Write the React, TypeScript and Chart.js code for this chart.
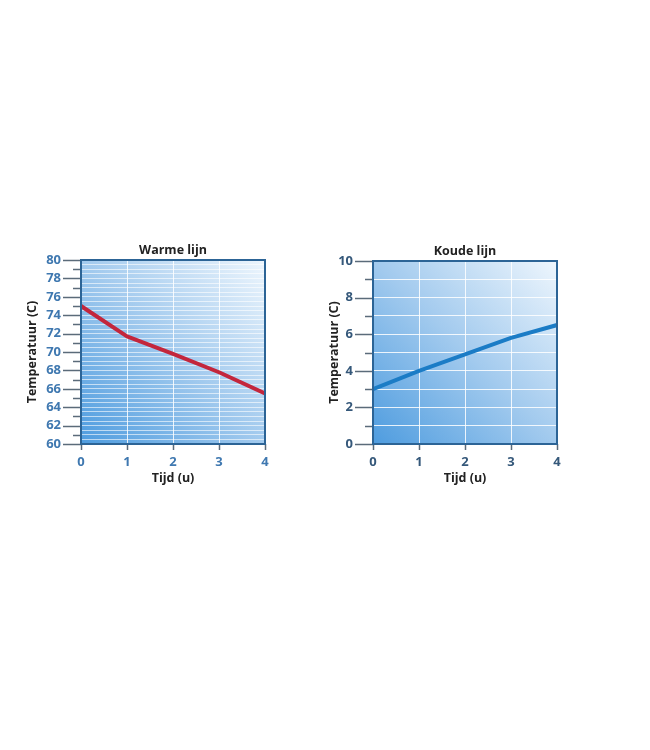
import React, { useEffect, useRef } from "react";
import { Chart, registerables } from "chart.js";

Chart.register(...registerables);

const hours = [0, 1, 2, 3, 4];
const warmTemps = [75, 71.7, 69.8, 67.8, 65.5];
const coldTemps = [3.0, 4.0, 4.9, 5.8, 6.5];
const warmTitle = "Warme lijn";
const coldTitle = "Koude lijn";
const xTitle = "Tijd (u)";
const yTitle = "Temperatuur (C)";

const FONT = "'Open Sans', 'Noto Sans', sans-serif";

const decorPlugin = {
  id: "decor",
  beforeDraw(chart: any) {
    const { ctx, chartArea: a } = chart;
    const g = ctx.createLinearGradient(a.left, a.bottom, a.right, a.top);
    g.addColorStop(0, "#4e9cdf");
    g.addColorStop(0.5, "#a2caee");
    g.addColorStop(1, "#eef6fd");
    ctx.save();
    ctx.fillStyle = g;
    ctx.fillRect(a.left, a.top, a.right - a.left, a.bottom - a.top);
    ctx.restore();
  },
  afterDraw(chart: any) {
    const { ctx, chartArea: a } = chart;
    const ys = chart.scales.y;
    const xs = chart.scales.x;
    ctx.save();
    ctx.strokeStyle = "#5b6b7a";
    ctx.lineWidth = 1.5;
    ys.ticks.forEach((t: any) => {
      const v = t.value;
      let len = 0;
      if (Math.abs(v % 2) < 1e-6) len = 18;
      else if (Math.abs(v % 1) < 1e-6) len = 8;
      if (!len) return;
      const y = Math.round(ys.getPixelForValue(v)) + 0.5;
      ctx.beginPath();
      ctx.moveTo(a.left - len, y);
      ctx.lineTo(a.left, y);
      ctx.stroke();
    });
    xs.ticks.forEach((t: any) => {
      const x = Math.round(xs.getPixelForValue(t.value)) + 0.5;
      ctx.beginPath();
      ctx.moveTo(x, a.bottom);
      ctx.lineTo(x, a.bottom + 6);
      ctx.stroke();
    });
    ctx.strokeStyle = "#2c6496";
    ctx.lineWidth = 2;
    ctx.strokeRect(a.left, a.top, a.right - a.left, a.bottom - a.top);
    const title = chart.options.plugins.decor.title;
    ctx.fillStyle = "#222222";
    ctx.font = "bold 12.5px " + FONT;
    ctx.textAlign = "center";
    ctx.textBaseline = "middle";
    ctx.fillText(title, (a.left + a.right) / 2, a.top - 10);
    ctx.restore();
  },
};

function makeConfig(
  title: string,
  values: number[],
  color: string,
  yMin: number,
  yMax: number,
  yStep: number,
  yWidth: number,
  labelColor: string,
  gridColor: string
): any {
  return {
    type: "line",
    data: {
      datasets: [
        {
          data: hours.map((h, i) => ({ x: h, y: values[i] })),
          borderColor: color,
          borderWidth: 4,
          pointRadius: 0,
          tension: 0,
          borderCapStyle: "round",
          borderJoinStyle: "round",
        },
      ],
    },
    plugins: [decorPlugin],
    options: {
      animation: false,
      responsive: false,
      maintainAspectRatio: false,
      layout: { padding: { left: 0, right: 15, top: 20, bottom: 0 } },
      plugins: {
        legend: { display: false },
        tooltip: { enabled: false },
        title: { display: false },
        decor: { title },
      },
      scales: {
        x: {
          type: "linear",
          min: 0,
          max: 4,
          afterFit: (s: any) => {
            s.height = 46;
          },
          ticks: {
            stepSize: 1,
            color: labelColor,
            padding: 10,
            font: { family: FONT, size: 13, weight: "bold" },
          },
          grid: {
            color: "rgba(255,255,255,0.85)",
            lineWidth: 1,
            drawTicks: false,
          },
          border: { display: false },
          title: {
            display: true,
            text: xTitle,
            color: "#222222",
            font: { family: FONT, size: 12.5, weight: "bold" },
            padding: { top: 0, bottom: 4 },
          },
        },
        y: {
          type: "linear",
          min: yMin,
          max: yMax,
          afterFit: (s: any) => {
            s.width = yWidth;
            s.paddingTop = 0;
            s.paddingBottom = 0;
          },
          ticks: {
            stepSize: yStep,
            autoSkip: false,
            color: labelColor,
            padding: 20,
            font: { family: FONT, size: 13, weight: "bold" },
            callback: (v: any) => (Math.abs(v % 2) < 1e-6 ? String(v) : ""),
          },
          grid: {
            color: gridColor,
            lineWidth: 1,
            drawTicks: false,
          },
          border: { display: false },
          title: {
            display: true,
            text: yTitle,
            color: "#222222",
            font: { family: FONT, size: 12.5, weight: "bold" },
            padding: { top: 5, bottom: 0 },
          },
        },
      },
    },
  };
}

function LineChart(props: { cfg: () => any; w: number; h: number }) {
  const ref = useRef<HTMLCanvasElement | null>(null);
  useEffect(() => {
    if (!ref.current) return;
    const c = new Chart(ref.current, props.cfg());
    return () => c.destroy();
  }, []);
  return <canvas ref={ref} width={props.w} height={props.h} style={{ width: props.w, height: props.h, display: "block" }} />;
}

export default function App() {
  return (
    <div style={{ position: "absolute", left: 0, top: 0, width: 650, height: 750, background: "#ffffff" }}>
      <div style={{ position: "absolute", left: 20, top: 240 }}>
        <LineChart
          w={260}
          h={250}
          cfg={() => makeConfig(warmTitle, warmTemps, "#c3263c", 60, 80, 0.5, 61, "#3f78b0", "rgba(255,255,255,0.6)")}
        />
      </div>
      <div style={{ position: "absolute", left: 322, top: 241 }}>
        <LineChart
          w={250}
          h={249}
          cfg={() => makeConfig(coldTitle, coldTemps, "#1b7cc6", 0, 10, 1, 51, "#35587a", "rgba(255,255,255,0.85)")}
        />
      </div>
    </div>
  );
}
